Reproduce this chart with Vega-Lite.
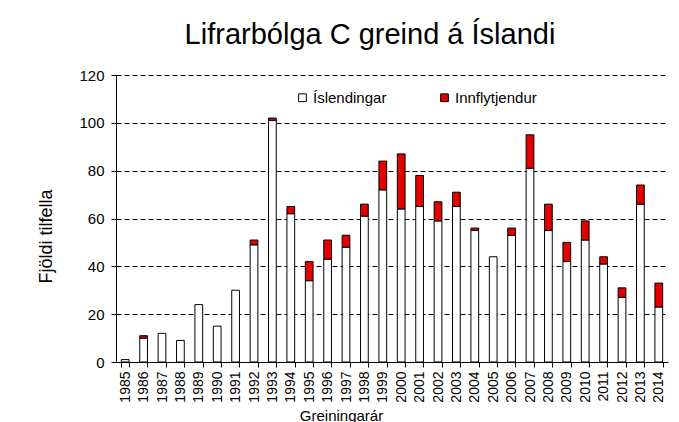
{
  "$schema": "https://vega.github.io/schema/vega-lite/v6.json",
  "autosize": {"type": "none"},
  "width": 552,
  "height": 287,
  "padding": {"left": 116, "top": 75, "right": 11, "bottom": 60},
  "background": "white",
  "title": {
    "text": "Lifrarbólga C greind á Íslandi",
    "font": "Liberation Sans",
    "fontSize": 29,
    "fontWeight": "normal",
    "color": "black",
    "anchor": "middle",
    "dx": -22,
    "offset": 18
  },
  "config": {
    "view": {"stroke": null},
    "font": "Liberation Sans"
  },
  "data": {
    "values": [
      {"year": "1985", "group": "Íslendingar", "value": 1},
      {"year": "1986", "group": "Íslendingar", "value": 10},
      {"year": "1986", "group": "Innflytjendur", "value": 1},
      {"year": "1987", "group": "Íslendingar", "value": 12},
      {"year": "1988", "group": "Íslendingar", "value": 9},
      {"year": "1989", "group": "Íslendingar", "value": 24},
      {"year": "1990", "group": "Íslendingar", "value": 15},
      {"year": "1991", "group": "Íslendingar", "value": 30},
      {"year": "1992", "group": "Íslendingar", "value": 49},
      {"year": "1992", "group": "Innflytjendur", "value": 2},
      {"year": "1993", "group": "Íslendingar", "value": 101},
      {"year": "1993", "group": "Innflytjendur", "value": 1},
      {"year": "1994", "group": "Íslendingar", "value": 62},
      {"year": "1994", "group": "Innflytjendur", "value": 3},
      {"year": "1995", "group": "Íslendingar", "value": 34},
      {"year": "1995", "group": "Innflytjendur", "value": 8},
      {"year": "1996", "group": "Íslendingar", "value": 43},
      {"year": "1996", "group": "Innflytjendur", "value": 8},
      {"year": "1997", "group": "Íslendingar", "value": 48},
      {"year": "1997", "group": "Innflytjendur", "value": 5},
      {"year": "1998", "group": "Íslendingar", "value": 61},
      {"year": "1998", "group": "Innflytjendur", "value": 5},
      {"year": "1999", "group": "Íslendingar", "value": 72},
      {"year": "1999", "group": "Innflytjendur", "value": 12},
      {"year": "2000", "group": "Íslendingar", "value": 64},
      {"year": "2000", "group": "Innflytjendur", "value": 23},
      {"year": "2001", "group": "Íslendingar", "value": 65},
      {"year": "2001", "group": "Innflytjendur", "value": 13},
      {"year": "2002", "group": "Íslendingar", "value": 59},
      {"year": "2002", "group": "Innflytjendur", "value": 8},
      {"year": "2003", "group": "Íslendingar", "value": 65},
      {"year": "2003", "group": "Innflytjendur", "value": 6},
      {"year": "2004", "group": "Íslendingar", "value": 55},
      {"year": "2004", "group": "Innflytjendur", "value": 1},
      {"year": "2005", "group": "Íslendingar", "value": 44},
      {"year": "2006", "group": "Íslendingar", "value": 53},
      {"year": "2006", "group": "Innflytjendur", "value": 3},
      {"year": "2007", "group": "Íslendingar", "value": 81},
      {"year": "2007", "group": "Innflytjendur", "value": 14},
      {"year": "2008", "group": "Íslendingar", "value": 55},
      {"year": "2008", "group": "Innflytjendur", "value": 11},
      {"year": "2009", "group": "Íslendingar", "value": 42},
      {"year": "2009", "group": "Innflytjendur", "value": 8},
      {"year": "2010", "group": "Íslendingar", "value": 51},
      {"year": "2010", "group": "Innflytjendur", "value": 8},
      {"year": "2011", "group": "Íslendingar", "value": 41},
      {"year": "2011", "group": "Innflytjendur", "value": 3},
      {"year": "2012", "group": "Íslendingar", "value": 27},
      {"year": "2012", "group": "Innflytjendur", "value": 4},
      {"year": "2013", "group": "Íslendingar", "value": 66},
      {"year": "2013", "group": "Innflytjendur", "value": 8},
      {"year": "2014", "group": "Íslendingar", "value": 23},
      {"year": "2014", "group": "Innflytjendur", "value": 10}
    ]
  },
  "mark": {"type": "bar", "stroke": "black", "strokeWidth": 1},
  "encoding": {
    "x": {
      "field": "year",
      "type": "ordinal",
      "scale": {"paddingInner": 0.58, "paddingOuter": 0.29},
      "axis": {
        "title": "Greiningarár",
        "titleFont": "Liberation Sans",
        "titleFontSize": 15,
        "titleFontWeight": "normal",
        "titleColor": "black",
        "titleX": 225,
        "titleY": 58,
        "titleBaseline": "alphabetic",
        "labelAngle": -90,
        "labelFontSize": 14,
        "labelColor": "black",
        "labelPadding": 4,
        "tickBand": "extent",
        "tickColor": "black",
        "tickSize": 5,
        "domainColor": "black",
        "grid": false
      }
    },
    "y": {
      "field": "value",
      "type": "quantitative",
      "aggregate": "sum",
      "stack": "zero",
      "scale": {"domain": [0, 120], "nice": false},
      "axis": {
        "title": "Fjöldi tilfella",
        "titleFont": "Liberation Sans",
        "titleFontSize": 18,
        "titleFontWeight": "normal",
        "titleColor": "black",
        "titleX": -65,
        "titleY": 161,
        "titleBaseline": "alphabetic",
        "titleAlign": "center",
        "titleAngle": -90,
        "values": [0, 20, 40, 60, 80, 100, 120],
        "labelFontSize": 15,
        "labelColor": "black",
        "labelPadding": 7,
        "tickColor": "black",
        "tickSize": 5,
        "domainColor": "black",
        "grid": true,
        "gridColor": "black",
        "gridDash": [5, 3],
        "gridWidth": 1
      }
    },
    "color": {
      "field": "group",
      "type": "nominal",
      "scale": {"domain": ["Íslendingar", "Innflytjendur"], "range": ["white", "#e30000"]},
      "legend": {
        "title": null,
        "orient": "none",
        "legendX": 179,
        "legendY": 15,
        "direction": "horizontal",
        "symbolType": "square",
        "symbolSize": 60,
        "symbolStrokeColor": "black",
        "symbolStrokeWidth": 1,
        "labelFontSize": 15,
        "labelColor": "black",
        "labelOffset": 3,
        "columnPadding": 50
      }
    },
    "order": {"field": "group", "sort": "descending"}
  }
}
